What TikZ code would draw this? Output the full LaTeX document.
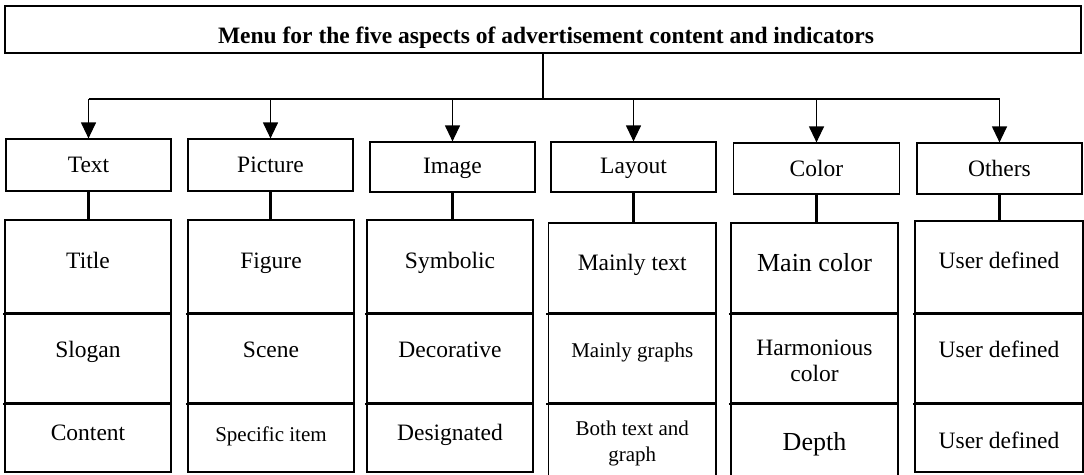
\documentclass[tikz,border=0pt]{standalone}
\usepackage{fontspec}
\setmainfont{Liberation Serif}
\usetikzlibrary{arrows.meta}
\begin{document}
\begin{tikzpicture}[x=1pt,y=-1pt,
  box/.style={draw, line width=1.2pt, inner sep=0pt, minimum width=#1},
  catbox/.style={box=165, minimum height=#1},
  div/.style={line width=2.2pt},
  conn/.style={line width=2.3pt},
  arr/.style={line width=1.2pt, -{Triangle[length=16pt,width=15pt]}},
  lbl/.style={anchor=base, inner sep=0pt, align=center, font=\fontsize{23.5}{26.5}\selectfont},
  lbls/.style={lbl, font=\fontsize{21}{26}\selectfont},
  lbll/.style={lbl, font=\fontsize{26}{28}\selectfont},
  ttl/.style={anchor=base, inner sep=0pt, font=\bfseries\fontsize{23.5}{26}\selectfont}]
\useasboundingbox (0,0) rectangle (1084,474);
\clip (0,0) rectangle (1084,474);

% top box
\node[box=1076, minimum height=47] (top) at (543,29.5) {};
\node[ttl] (title) at (546,43) {Menu for the five aspects of advertisement content and indicators};

% category boxes
\node[catbox=52] (cT) at (88.5,165) {};
\node[catbox=52] (cP) at (270.5,165) {};
\node[catbox=50] (cI) at (452.5,167) {};
\node[catbox=50] (cL) at (633.5,167) {};
\node[catbox=51, minimum width=166] (cC) at (816.5,168.5) {};
\node[catbox=51] (cO) at (999.5,168.5) {};

\node[lbl] (tT) at (88.5,172) {Text};
\node[lbl] (tP) at (270.5,172) {Picture};
\node[lbl] (tI) at (452.5,173) {Image};
\node[lbl] (tL) at (633.5,173) {Layout};
\node[lbl] (tC) at (816.5,176) {Color};
\node[lbl] (tO) at (999.5,176) {Others};

% bar and arrows
\coordinate (bar) at (0,99);
\draw[conn] (top.south) -- (top.south |- bar);
\draw[line width=2.5pt] (cT.north |- bar) -- (cO.north |- bar);
\foreach \c in {cT,cP,cI,cL,cC,cO}
  \draw[arr] (\c.north |- bar) -- (\c.north);

% column cells
% Text
\node[box=166, minimum height=93] (T1) at (88,266.5) {};
\node[box=166, minimum height=90] (T2) at (88,358) {};
\node[box=166, minimum height=69] (T3) at (88,437.5) {};
% Picture
\node[box=166, minimum height=93] (P1) at (271,266.5) {};
\node[box=166, minimum height=90] (P2) at (271,358) {};
\node[box=166, minimum height=69] (P3) at (271,437.5) {};
% Image
\node[box=166, minimum height=93] (I1) at (450,266.5) {};
\node[box=166, minimum height=90] (I2) at (450,358) {};
\node[box=166, minimum height=69] (I3) at (450,437.5) {};
% Layout
\node[box=167.5, minimum height=90] (L1) at (632.25,268) {};
\node[box=167.5, minimum height=90] (L2) at (632.25,358) {};
\node[box=167.5, minimum height=80] (L3) at (632.25,443) {};
% Color
\node[box=167, minimum height=90] (C1) at (814.5,268) {};
\node[box=167, minimum height=90] (C2) at (814.5,358) {};
\node[box=167, minimum height=80] (C3) at (814.5,443) {};
% Others
\node[box=168, minimum height=92] (O1) at (999,267) {};
\node[box=168, minimum height=90] (O2) at (999,358) {};
\node[box=168, minimum height=69] (O3) at (999,437.5) {};

% thick dividers
\foreach \c in {T,P,I,L,C,O} {
  \draw[div] ([xshift=-1.5pt]\c1.south west) -- (\c1.south east);
  \draw[div] ([xshift=-1.5pt]\c2.south west) -- (\c2.south east);
}

% connectors category -> column
\draw[conn] (cT.south) -- (cT.south |- T1.north);
\draw[conn] (cP.south) -- (cP.south |- P1.north);
\draw[conn] (cI.south) -- (cI.south |- I1.north);
\draw[conn] (cL.south) -- (cL.south |- L1.north);
\draw[conn] (cC.south) -- (cC.south |- C1.north);
\draw[conn] (cO.south) -- (cO.south |- O1.north);

% cell labels
\node[lbl] (xT1) at (88,268) {Title};
\node[lbl] (xT2) at (88,357) {Slogan};
\node[lbl] (xT3) at (88,440) {Content};

\node[lbl] (xP1) at (271,268) {Figure};
\node[lbl] (xP2) at (271,357) {Scene};
\node[lbls] (xP3) at (271,441.5) {Specific item};

\node[lbl] (xI1) at (450,268) {Symbolic};
\node[lbl] (xI2) at (450,357) {Decorative};
\node[lbl] (xI3) at (450,440) {Designated};

\node[lbl] (xL1) at (632.25,270) {Mainly text};
\node[lbls] (xL2) at (632.25,357) {Mainly graphs};
\node[lbls] (xL3) at (632.25,461) {Both text and\\graph};

\node[lbll] (xC1) at (814.5,271.5) {Main color};
\node[lbl] (xC2) at (814.5,381.5) {Harmonious\\color};
\node[lbll] (xC3) at (814.5,450) {Depth};

\node[lbl] (xO1) at (999,268) {User defined};
\node[lbl] (xO2) at (999,357) {User defined};
\node[lbl] (xO3) at (999,448) {User defined};
\end{tikzpicture}
\end{document}
